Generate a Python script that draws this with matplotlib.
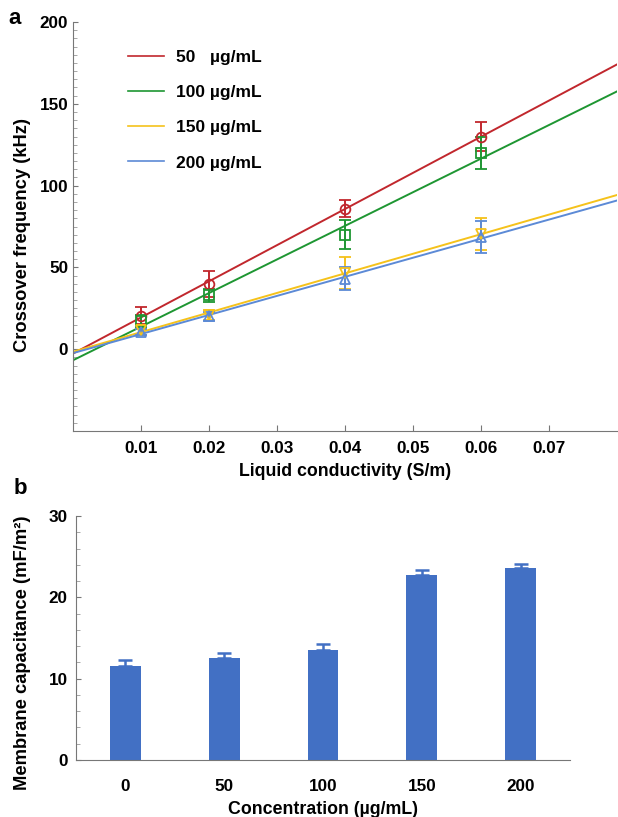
import matplotlib
matplotlib.use("Agg")
import matplotlib.pyplot as plt
import numpy as np
from matplotlib.ticker import MultipleLocator

plt.rcParams["font.family"] = ["Liberation Sans", "DejaVu Sans"]
plt.rcParams["font.weight"] = "bold"

# panel a: crossover frequency vs liquid conductivity
conductivity = [0.01, 0.02, 0.04, 0.06]
series_labels = ["50   µg/mL", "100 µg/mL", "150 µg/mL", "200 µg/mL"]
freq_50 = [20.5, 40, 86, 130]
freq_100 = [17, 33, 70, 120]
freq_150 = [11.5, 21, 46.5, 70.5]
freq_200 = [10.5, 20, 43, 68.5]
err_50 = [5, 8, 5, 9]
err_100 = [4, 4, 9, 10]
err_150 = [3, 3, 10, 10]
err_200 = [2, 3, 7, 10]

# panel b: membrane capacitance vs concentration
concentration = ["0", "50", "100", "150", "200"]
capacitance = [11.5, 12.6, 13.5, 22.75, 23.6]
cap_err = [0.8, 0.6, 0.8, 0.6, 0.5]

colors = ["#C1272D", "#1E9632", "#F5C21B", "#5C8AD6"]
markers = ["o", "s", "v", "^"]

TICK_FS = 12.3
LABEL_FS = 12.8

fig = plt.figure(figsize=(6.18, 8.17), dpi=100)
W, H = 618, 817
ax = fig.add_axes([73 / W, 1 - 431 / H, (617 - 73) / W, (431 - 22) / H])

x_fit = np.array([0.0, 0.08])
for ys, es, c, m, lab in zip([freq_50, freq_100, freq_150, freq_200],
                             [err_50, err_100, err_150, err_200],
                             colors, markers, series_labels):
    k, b = np.polyfit(conductivity, ys, 1)
    ax.plot(x_fit, k * x_fit + b, color=c, linewidth=1.4, label=lab, zorder=2)
    ax.errorbar(conductivity, ys, yerr=es, fmt=m, mfc="none", mec=c, ecolor=c,
                ms=7, mew=1.3, elinewidth=1.4, capsize=4, capthick=1.4, zorder=3)

ax.set_xlim(0, 0.08)
ax.set_ylim(-50, 200)
ax.set_xticks(conductivity + [0.03, 0.05, 0.07])
ax.set_xticklabels([f"{v:.2f}" for v in ax.get_xticks()])
ax.set_yticks([0, 50, 100, 150, 200])
ax.yaxis.set_minor_locator(MultipleLocator(5))
ax.spines[["top", "right"]].set_visible(False)
for s in ("left", "bottom"):
    ax.spines[s].set_color("#777777")
ax.tick_params(axis="both", direction="in", labelsize=TICK_FS, color="#777777")
ax.tick_params(axis="y", which="minor", direction="in", length=3, color="#999999")
ax.tick_params(axis="x", length=4, pad=7)
ax.set_xlabel("Liquid conductivity (S/m)", fontsize=LABEL_FS, fontweight="bold", labelpad=5)
ax.set_ylabel("Crossover frequency (kHz)", fontsize=LABEL_FS + 0.4, fontweight="bold")
ax.yaxis.set_label_coords((31 - 73) / 544, 0.48)
leg = ax.legend(loc="upper left", bbox_to_anchor=((128 - 73) / 544, (431 - 50) / 409),
                frameon=False, fontsize=12.5, handlelength=2.1, labelspacing=1.15,
                handletextpad=0.65, borderpad=0, borderaxespad=0)
for line in leg.get_lines():
    line.set_linewidth(1.2)

# panel b
bx = fig.add_axes([76 / W, 1 - 760 / H, (570 - 76) / W, (760 - 516) / H])
pos = np.arange(len(concentration))
bx.bar(pos, capacitance, width=0.31, color="#4270C4", zorder=2)
bx.errorbar(pos, capacitance, yerr=[np.zeros(len(cap_err)), cap_err], fmt="none",
            ecolor="#4270C4", elinewidth=1.8, capsize=5, capthick=1.8, zorder=3)
bx.set_xlim(-0.5, 4.5)
bx.set_ylim(0, 30)
bx.set_xticks(pos)
bx.set_xticklabels(concentration)
bx.set_yticks([0, 10, 20, 30])
bx.yaxis.set_minor_locator(MultipleLocator(2))
bx.spines[["top", "right"]].set_visible(False)
for s in ("left", "bottom"):
    bx.spines[s].set_color("#777777")
bx.tick_params(axis="y", direction="in", labelsize=TICK_FS, color="#777777", pad=6)
bx.tick_params(axis="y", which="minor", direction="in", length=3, color="#999999")
bx.tick_params(axis="x", length=0, labelsize=TICK_FS, pad=14)
bx.set_xlabel("Concentration (µg/mL)", fontsize=LABEL_FS, fontweight="bold", labelpad=5)
bx.set_ylabel("Membrane capacitance (mF/m²)", fontsize=LABEL_FS + 0.4, fontweight="bold")
bx.yaxis.set_label_coords((31 - 76) / 494, 0.44)

fig.text(8 / W, 1 - 18 / H, "a", fontsize=16, fontweight="bold", va="center")
fig.text(14 / W, 1 - 489 / H, "b", fontsize=16, fontweight="bold", va="center")

fig.savefig("out.png", dpi=100)
